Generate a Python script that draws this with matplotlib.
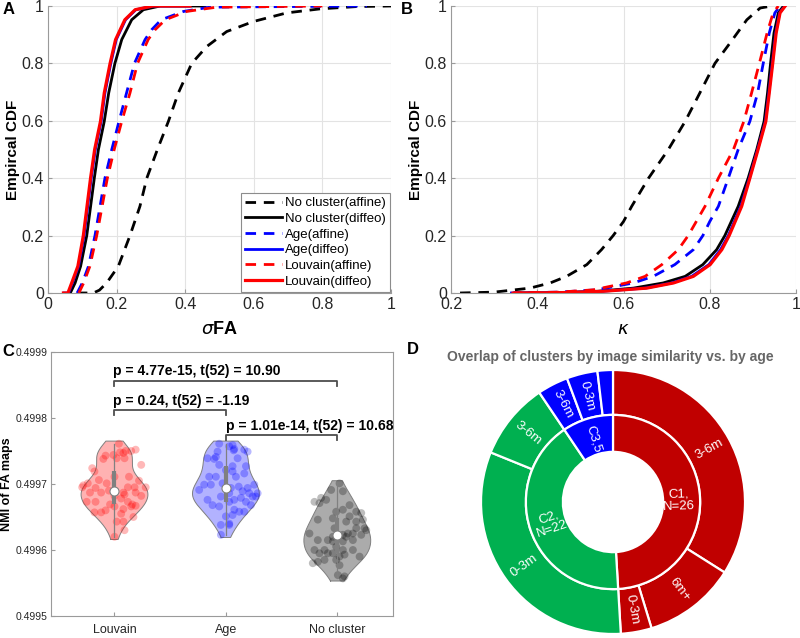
import numpy as np
import matplotlib
matplotlib.use('Agg')
import matplotlib.pyplot as plt

plt.rcParams['font.family'] = ['Liberation Sans', 'DejaVu Sans']
plt.rcParams['mathtext.fontset'] = 'dejavusans'

# ---------------- data ----------------
# panel A: empirical CDF of sigma FA (x value, cdf level) read off the curves
nc_aff_A_x = [0.084, 0.132, 0.150, 0.171, 0.205, 0.239, 0.268, 0.288, 0.319, 0.351, 0.380, 0.419, 0.463, 0.521, 0.599, 0.696, 0.793, 0.90, 1.0]
nc_aff_A_y = [0, 0, 0.01, 0.035, 0.093, 0.2, 0.302, 0.4, 0.5, 0.598, 0.697, 0.8, 0.859, 0.911, 0.946, 0.976, 0.99, 0.998, 1.0]
nc_dif_A_x = [0.065, 0.079, 0.095, 0.113, 0.135, 0.147, 0.164, 0.177, 0.195, 0.215, 0.244, 0.278, 0.327, 0.458]
nc_dif_A_y = [0, 0.035, 0.093, 0.2, 0.4, 0.5, 0.598, 0.697, 0.8, 0.883, 0.952, 0.987, 1.0, 1.0]
age_aff_A_x = [0.085, 0.100, 0.118, 0.137, 0.166, 0.186, 0.207, 0.229, 0.252, 0.283, 0.302, 0.330, 0.395, 0.472, 0.93]
age_aff_A_y = [0, 0.035, 0.093, 0.2, 0.4, 0.5, 0.598, 0.697, 0.8, 0.883, 0.917, 0.952, 0.981, 0.996, 1.0]
age_dif_A_x = [0.047, 0.060, 0.071, 0.089, 0.105, 0.126, 0.138, 0.155, 0.166, 0.183, 0.199, 0.226, 0.256, 0.308, 0.41]
age_dif_A_y = [0, 0, 0.035, 0.093, 0.2, 0.4, 0.5, 0.598, 0.697, 0.8, 0.883, 0.952, 0.987, 1.0, 1.0]
lou_aff_A_x = [0.09, 0.104, 0.122, 0.142, 0.173, 0.193, 0.215, 0.239, 0.261, 0.292, 0.312, 0.342, 0.404, 0.492, 0.80]
lou_aff_A_y = [0, 0.035, 0.093, 0.2, 0.4, 0.5, 0.598, 0.697, 0.8, 0.883, 0.917, 0.952, 0.981, 0.996, 1.0]
lou_dif_A_x = [0.045, 0.058, 0.069, 0.087, 0.103, 0.124, 0.136, 0.153, 0.164, 0.181, 0.197, 0.224, 0.254, 0.306, 0.414]
lou_dif_A_y = [0, 0, 0.035, 0.093, 0.2, 0.4, 0.5, 0.598, 0.697, 0.8, 0.883, 0.952, 0.987, 1.0, 1.0]

# panel B: empirical CDF of kappa
nc_aff_B_x = [0.221, 0.30, 0.383, 0.43, 0.468, 0.515, 0.549, 0.576, 0.600, 0.619, 0.658, 0.704, 0.743, 0.777, 0.812, 0.847, 0.886, 0.917, 0.944]
nc_aff_B_y = [0, 0.003, 0.017, 0.035, 0.058, 0.099, 0.151, 0.2, 0.249, 0.302, 0.4, 0.5, 0.598, 0.697, 0.8, 0.871, 0.952, 0.993, 1.0]
nc_dif_B_x = [0.35, 0.45, 0.54, 0.623, 0.692, 0.743, 0.784, 0.816, 0.835, 0.866, 0.889, 0.909, 0.926, 0.934, 0.941, 0.949, 0.959, 0.971]
nc_dif_B_y = [0, 0.001, 0.006, 0.017, 0.035, 0.058, 0.099, 0.151, 0.2, 0.302, 0.4, 0.5, 0.598, 0.697, 0.8, 0.906, 0.976, 1.0]
age_aff_B_x = [0.337, 0.45, 0.538, 0.623, 0.669, 0.719, 0.762, 0.784, 0.80, 0.82, 0.843, 0.866, 0.893, 0.911, 0.924, 0.938, 0.951, 0.963]
age_aff_B_y = [0, 0.003, 0.011, 0.035, 0.058, 0.099, 0.151, 0.2, 0.249, 0.302, 0.4, 0.5, 0.598, 0.697, 0.8, 0.906, 0.976, 1.0]
age_dif_B_x = [0.348, 0.45, 0.55, 0.650, 0.712, 0.758, 0.798, 0.825, 0.843, 0.872, 0.892, 0.911, 0.929, 0.937, 0.945, 0.953, 0.962, 0.974]
age_dif_B_y = [0, 0.001, 0.006, 0.017, 0.035, 0.058, 0.099, 0.151, 0.2, 0.302, 0.4, 0.5, 0.598, 0.697, 0.8, 0.906, 0.976, 1.0]
lou_aff_B_x = [0.34, 0.45, 0.53, 0.607, 0.650, 0.689, 0.727, 0.75, 0.789, 0.82, 0.855, 0.879, 0.897, 0.915, 0.933, 0.947, 0.959]
lou_aff_B_y = [0, 0.003, 0.011, 0.035, 0.058, 0.099, 0.151, 0.2, 0.302, 0.4, 0.5, 0.598, 0.697, 0.8, 0.906, 0.976, 1.0]
lou_dif_B_x = [0.348, 0.45, 0.553, 0.654, 0.716, 0.762, 0.801, 0.828, 0.845, 0.874, 0.893, 0.912, 0.930, 0.938, 0.946, 0.954, 0.963, 0.975]
lou_dif_B_y = [0, 0.001, 0.006, 0.017, 0.035, 0.058, 0.099, 0.151, 0.2, 0.302, 0.4, 0.5, 0.598, 0.697, 0.8, 0.906, 0.976, 1.0]

legend_labels = ['No cluster(affine)', 'No cluster(diffeo)', 'Age(affine)', 'Age(diffeo)',
                 'Louvain(affine)', 'Louvain(diffeo)']

# panel C: NMI of FA maps per subject (jitter offset, value)
groups = ['Louvain', 'Age', 'No cluster']
louvain_jit = [0.04, -0.08, -0.01, 0.10, 0.15, 0.08, 0.19, -0.20, -0.18, 0.02, 0.09, 0.24, -0.24, -0.14, -0.07, 0.00,
               0.13, -0.29, -0.17, 0.12, 0.18, 0.28, -0.22, -0.12, 0.00, 0.08, 0.09, 0.19, 0.24, -0.25, -0.17, -0.04,
               0.16, 0.12, -0.18, -0.12, 0.00, 0.08, 0.15, 0.19, 0.02, 0.08, 0.09, 0.00, 0.05, -0.10, 0.22, -0.05,
               0.06, -0.08, 0.17, 0.06, -0.28]
louvain_nmi = [0.499761, 0.499743, 0.499744, 0.499750, 0.499750, 0.499747, 0.499752, 0.499724, 0.499719, 0.499739,
               0.499739, 0.499729, 0.499701, 0.499706, 0.499701, 0.499711, 0.499711, 0.499695, 0.499694, 0.499695,
               0.499695, 0.499695, 0.499687, 0.499687, 0.499682, 0.499687, 0.499684, 0.499687, 0.499682, 0.499673,
               0.499673, 0.499669, 0.499669, 0.499673, 0.499657, 0.499657, 0.499666, 0.499662, 0.499666, 0.499667,
               0.499643, 0.499643, 0.499630, 0.499620, 0.499748, 0.499738, 0.499705, 0.499690, 0.499678, 0.499660,
               0.499650, 0.499655, 0.499698]
age_jit = [-0.06, 0.06, 0.07, 0.075, -0.165, -0.105, -0.09, 0.165, 0.195, 0.18, 0.06, 0.06, -0.06, 0.165, -0.24,
           -0.135, -0.03, 0.115, 0.195, 0.255, 0.285, 0.24, -0.12, -0.045, 0.03, 0.075, 0.135, 0.18, 0.03, 0.165,
           0.075, -0.06, 0.0, 0.06, -0.045, 0.03, -0.045, 0.12, 0.225, 0.27, -0.09, 0.09, -0.165, 0.045, 0.15, 0.0,
           0.105, -0.075, -0.15, 0.03, 0.21, -0.195, 0.03]
age_nmi = [0.499761, 0.499759, 0.499751, 0.499753, 0.499739, 0.499738, 0.499741, 0.499752, 0.499749, 0.499727,
           0.499727, 0.499719, 0.499729, 0.499716, 0.499691, 0.499699, 0.499701, 0.499696, 0.499694, 0.499699,
           0.499686, 0.499681, 0.499668, 0.499681, 0.499686, 0.499676, 0.499679, 0.499673, 0.499673, 0.499658,
           0.499661, 0.499666, 0.499651, 0.499653, 0.499638, 0.499638, 0.499623, 0.499658, 0.499668, 0.499681,
           0.499711, 0.499711, 0.499676, 0.499694, 0.499689, 0.499721, 0.499739, 0.499749, 0.499711, 0.499640,
           0.499686, 0.499699, 0.499757]
nocl_jit = [0.02, -0.055, -0.10, -0.145, -0.205, -0.16, 0.05, 0.11, 0.17, 0.215, 0.23, 0.245, 0.26, 0.17, 0.14,
            0.14, 0.08, 0.05, -0.04, -0.04, -0.085, -0.115, -0.085, -0.04, -0.01, 0.05, 0.02, -0.01, 0.065, 0.20,
            0.14, -0.25, -0.205, -0.175, -0.16, -0.115, -0.22, -0.175, 0.02, 0.005, 0.05, 0.065, 0.05, 0.095, 0.215,
            0.17, 0.08, -0.04, -0.01, 0.11, -0.025, 0.05, -0.175]
nocl_nmi = [0.499701, 0.499691, 0.499676, 0.499679, 0.499673, 0.499671, 0.499689, 0.499668, 0.499658, 0.499656,
            0.499646, 0.499633, 0.499630, 0.499633, 0.499625, 0.499615, 0.499620, 0.499623, 0.499620, 0.499613,
            0.499615, 0.499600, 0.499595, 0.499595, 0.499605, 0.499600, 0.499590, 0.499585, 0.499593, 0.499590,
            0.499600, 0.499625, 0.499600, 0.499615, 0.499595, 0.499585, 0.499580, 0.499582, 0.499577, 0.499562,
            0.499557, 0.499560, 0.499613, 0.499625, 0.499623, 0.499643, 0.499643, 0.499648, 0.499658, 0.499651,
            0.499633, 0.499661, 0.499646]
stat_texts = ['p = 4.77e-15, t(52) = 10.90', 'p = 0.24, t(52) = -1.19', 'p = 1.01e-14, t(52) = 10.68']

# panel D: cluster sizes (inner) and age groups within clusters (outer)
inner_counts = [26, 22, 5]
inner_labels = ['C1,\nN=26', 'C2,\nN=22', 'C3,5']
outer_counts = [18, 6, 2, 17, 5, 2, 2, 1]
outer_labels = ['3-6m', '6m+', '0-3m', '0-3m', '3-6m', '3-6m', '0-3m', '']
outer_cluster = [0, 0, 0, 1, 1, 2, 2, 2]
cluster_colors = ['#C00000', '#00B050', '#0000FF']

# ---------------- figure ----------------
W, H = 800, 638
fig = plt.figure(figsize=(8, 6.38), dpi=100)

def box(l, t, r, b):
    return [l / W, 1 - b / H, (r - l) / W, (b - t) / H]

dash = (0, (3.8, 2.8))

def cdf_panel(ax, curves, xlim, xticks, xlabel):
    styles = [('k', dash, 2.0), ('k', '-', 2.0), ('b', dash, 2.0), ('b', '-', 2.0),
              ('r', dash, 2.0), ('r', '-', 2.3)]
    handles = []
    for (x, y), (c, ls, lw), lab in zip(curves, styles, legend_labels):
        h, = ax.plot(x, y, color=c, linestyle=ls, linewidth=lw, label=lab)
        handles.append(h)
    ax.set_xlim(*xlim)
    ax.set_ylim(0, 1)
    ax.set_xticks(xticks)
    ax.set_xticklabels([f'{t:g}' for t in xticks])
    ax.set_yticks([0, 0.2, 0.4, 0.6, 0.8, 1])
    ax.set_yticklabels(['0', '0.2', '0.4', '0.6', '0.8', '1'])
    ax.grid(True, color='#e3e3e3', linewidth=0.8)
    ax.set_axisbelow(True)
    for s in ['top', 'right']:
        ax.spines[s].set_visible(False)
    for s in ['left', 'bottom']:
        ax.spines[s].set_color('#9a9a9a')
    ax.tick_params(direction='in', length=3, color='#9a9a9a', labelsize=11.5, labelcolor='#262626', pad=3)
    ax.set_ylabel('Empircal CDF', fontsize=11, fontweight='bold', labelpad=1)
    ax.set_xlabel(xlabel, fontsize=13, fontweight='bold', labelpad=6)
    return handles

axA = fig.add_axes(box(48, 6, 391, 293))
hA = cdf_panel(axA, [(nc_aff_A_x, nc_aff_A_y), (nc_dif_A_x, nc_dif_A_y), (age_aff_A_x, age_aff_A_y),
                     (age_dif_A_x, age_dif_A_y), (lou_aff_A_x, lou_aff_A_y), (lou_dif_A_x, lou_dif_A_y)],
               (0, 1), [0, 0.2, 0.4, 0.6, 0.8, 1], r'$\sigma$FA')
leg = axA.legend(handles=hA, loc='lower right', fontsize=9.5, handlelength=2.8, handletextpad=0.2,
                 borderpad=0.3, labelspacing=0.26, borderaxespad=0.1, fancybox=False, framealpha=1)
leg.get_frame().set_edgecolor('#8c8c8c')
leg.get_frame().set_linewidth(0.8)

axB = fig.add_axes(box(451, 6, 796, 293))
cdf_panel(axB, [(nc_aff_B_x, nc_aff_B_y), (nc_dif_B_x, nc_dif_B_y), (age_aff_B_x, age_aff_B_y),
                (age_dif_B_x, age_dif_B_y), (lou_aff_B_x, lou_aff_B_y), (lou_dif_B_x, lou_dif_B_y)],
          (0.2, 1), [0.2, 0.4, 0.6, 0.8, 1], r'$\kappa$')

# panel C: violins
axC = fig.add_axes(box(51, 352, 393, 616))
data_c = [(louvain_jit, louvain_nmi, (1, 0, 0)), (age_jit, age_nmi, (0, 0, 1)), (nocl_jit, nocl_nmi, (0, 0, 0))]
for i, (jit, vals, col) in enumerate(data_c):
    pos = i + 1
    v = np.array(vals)
    bw = 1.06 * v.std() * len(v) ** (-0.2)
    grid = np.linspace(v.min() - 0.000004, v.max() + 0.000004, 200)
    dens = np.exp(-0.5 * ((grid[:, None] - v[None, :]) / bw) ** 2).sum(axis=1)
    half = dens / dens.max() * 0.30
    axC.fill_betweenx(grid, pos - half, pos + half, facecolor=col, alpha=0.3 if col != (0, 0, 0) else 0.33,
                      edgecolor='none', zorder=1)
    axC.plot(np.r_[pos - half, (pos + half)[::-1], pos - half[0]], np.r_[grid, grid[::-1], grid[0]],
             color='#7f7f7f', linewidth=0.7, zorder=2)
    axC.scatter(pos + np.array(jit), v, s=32, color=col, alpha=0.28 if col != (0, 0, 0) else 0.26,
                edgecolors='none', zorder=3)
    q1, med, q3 = np.percentile(v, [25, 50, 75])
    axC.plot([pos, pos], [v.min(), v.max()], color='#808080', linewidth=0.9, zorder=4)
    axC.plot([pos, pos], [q1, q3], color='#808080', linewidth=3, solid_capstyle='butt', zorder=5)
    axC.plot(pos, med, 'o', markersize=6.5, markerfacecolor='white', markeredgecolor='#808080',
             markeredgewidth=0.8, zorder=6)

br_col = '#4d4d4d'
brackets = [(1, 3, 0.4998555, 0.499849, 0.499849), (1, 2, 0.4998125, 0.499805, 0.499805),
            (2, 3, 0.4997746, 0.499766, 0.499766)]
for x0, x1, yb, y0, y1 in brackets:
    axC.plot([x0, x0, x1, x1], [y0, yb, yb, y1], color=br_col, linewidth=1.3, zorder=7)
text_pos = [(0.985, 0.499871), (0.985, 0.499825), (2.0, 0.499788)]
for (tx, ty), s in zip(text_pos, stat_texts):
    axC.text(tx, ty, s, fontsize=10, fontweight='bold', ha='left', va='center', color='black')

axC.set_xlim(0.43, 3.5)
axC.set_ylim(0.4995, 0.4999)
axC.set_xticks([1, 2, 3])
axC.set_xticklabels(groups)
axC.set_yticks([0.4995, 0.4996, 0.4997, 0.4998, 0.4999])
axC.set_yticklabels(['0.4995', '0.4996', '0.4997', '0.4998', '0.4999'])
for s in axC.spines.values():
    s.set_color('#9a9a9a')
axC.tick_params(direction='in', length=3, color='#9a9a9a', labelcolor='#262626', pad=2.5)
axC.tick_params(axis='y', labelsize=7.5)
axC.tick_params(axis='x', labelsize=9, pad=6)
axC.set_ylabel('NMI of FA maps', fontsize=9, fontweight='bold', labelpad=2)

# panel D: nested donut
axD = fig.add_axes(box(481, 370, 745, 634))
wo, _ = axD.pie(outer_counts, radius=1.0, startangle=90, counterclock=False,
                colors=[cluster_colors[c] for c in outer_cluster],
                wedgeprops=dict(width=0.34, edgecolor='white', linewidth=1.6))
wi, _ = axD.pie(inner_counts, radius=0.66, startangle=90, counterclock=False,
                colors=cluster_colors, wedgeprops=dict(width=0.28, edgecolor='white', linewidth=1.6))

def place_labels(wedges, labels, r):
    for w, lab in zip(wedges, labels):
        if not lab:
            continue
        ang = (w.theta1 + w.theta2) / 2
        rad = np.deg2rad(ang)
        rot = ang if np.cos(rad) >= 0 else ang + 180
        axD.text(r * np.cos(rad), r * np.sin(rad), lab, rotation=rot, rotation_mode='anchor',
                 ha='center', va='center', color='white', fontsize=9.5, linespacing=1.0)

place_labels(wo, outer_labels, 0.83)
place_labels(wi, inner_labels, 0.50)
axD.set_xlim(-1, 1)
axD.set_ylim(-1, 1)

fig.text(610 / W, 1 - 357 / H, 'Overlap of clusters by image similarity vs. by age', ha='center', va='center',
         fontsize=10, fontweight='bold', color='#666666')

# panel letters
for lab, x, y in [('A', 9, 10), ('B', 407, 10), ('C', 8, 352), ('D', 413, 350)]:
    fig.text(x / W, 1 - y / H, lab, fontsize=12, fontweight='bold', ha='center', va='center')

fig.savefig('out.png', dpi=100)
